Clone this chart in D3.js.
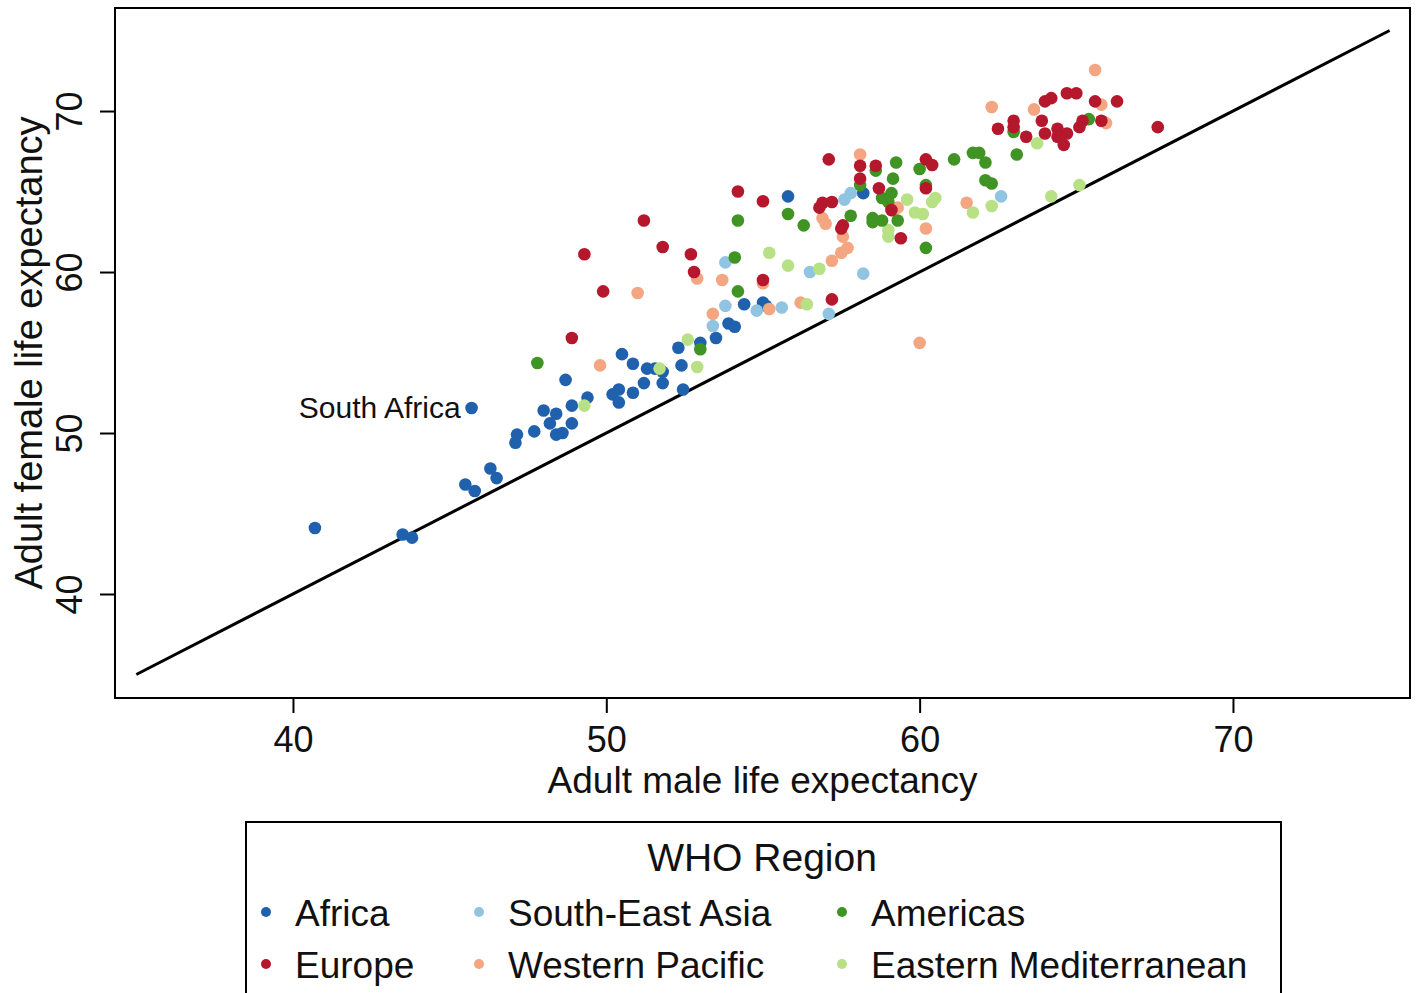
<!DOCTYPE html>
<html>
<head>
<meta charset="utf-8">
<script src="https://cdn.jsdelivr.net/npm/d3@7"></script>
<style>
  body { margin: 0; background: #fff; }
  svg { display: block; overflow: hidden; font-family: "Liberation Sans", Arial, sans-serif; }
  .frame { fill: none; stroke: #000; stroke-width: 2; }
  .diag { stroke: #000; stroke-width: 3; }
  .tick line { stroke: #000; stroke-width: 2; }
  .tick text { font-size: 36px; fill: #111; }
</style>
</head>
<body>
<div id="chart"></div>
<script>
// [male, female] adult life expectancy
var africa = [
  [40.7, 44.1], [43.5, 43.7], [43.8, 43.5], [45.5, 46.8], [45.8, 46.4], [46.3, 47.8],
  [46.5, 47.2], [45.7, 51.55], [47.1, 49.4], [47.15, 49.9], [47.7, 50.1], [48.0, 51.4],
  [48.2, 50.6], [48.4, 51.2], [48.4, 49.9], [48.6, 50.0], [48.7, 53.3], [48.9, 51.7],
  [48.9, 50.6], [49.4, 52.2], [50.2, 52.4], [50.4, 52.7], [50.4, 51.9], [50.5, 54.9],
  [50.85, 54.3], [50.85, 52.5], [51.3, 54.0], [51.55, 54.0], [51.8, 53.8], [51.8, 53.1],
  [51.2, 53.1], [52.4, 54.2], [52.3, 55.3], [52.45, 52.7], [53.0, 55.6], [53.5, 55.9],
  [53.9, 56.8], [54.1, 56.6], [54.4, 58.0], [55.0, 58.1], [55.1, 57.9], [55.8, 64.7],
  [58.2, 64.9]
];
var europe = [
  [49.3, 61.1], [49.9, 58.8], [51.2, 63.2], [51.8, 61.55], [52.7, 61.1], [52.8, 60.0],
  [48.9, 55.9], [54.2, 65.0], [55.0, 64.4], [55.0, 59.5], [57.1, 67.0], [58.1, 66.6],
  [58.6, 66.6], [58.1, 65.8], [58.7, 65.2], [60.2, 67.0], [60.4, 66.65], [60.2, 65.2],
  [56.9, 64.3], [57.2, 64.35], [56.8, 64.0], [57.55, 62.9], [57.5, 62.7], [59.1, 63.85],
  [59.4, 62.1], [57.2, 58.3], [64.7, 71.1], [65.0, 71.1], [64.0, 70.6], [64.2, 70.8],
  [65.6, 70.6], [66.3, 70.6], [63.0, 69.4], [63.0, 69.0], [62.5, 68.9], [63.4, 68.4],
  [63.9, 69.4], [64.0, 68.6], [64.4, 68.9], [64.4, 68.4], [64.7, 68.6], [65.1, 69.0],
  [65.2, 69.4], [65.8, 69.4], [64.6, 67.9], [67.6, 69.0]
];
var seAsia = [
  [53.8, 60.6], [53.8, 57.9], [53.4, 56.65], [54.8, 57.6], [55.6, 57.8], [56.5, 60.0],
  [57.1, 57.4], [57.8, 64.9], [57.6, 64.5], [58.2, 59.9], [62.6, 64.7]
];
var westPacific = [
  [49.8, 54.2], [51.0, 58.7], [52.9, 59.6], [53.7, 59.5], [53.4, 57.4], [55.0, 59.3],
  [55.2, 57.7], [56.2, 58.1], [57.2, 60.7], [57.55, 62.2], [57.7, 61.5], [57.5, 61.2],
  [56.9, 63.35], [57.0, 63.0], [58.1, 67.3], [59.3, 64.0], [59.15, 63.8], [60.2, 62.7],
  [60.0, 55.6], [61.5, 64.3], [62.3, 70.25], [63.65, 70.1], [65.6, 72.55], [65.8, 70.4],
  [65.95, 69.25]
];
var americas = [
  [47.8, 54.35], [53.0, 55.2], [54.2, 58.8], [54.1, 60.9], [54.2, 63.2], [55.8, 63.6],
  [56.3, 62.9], [57.8, 63.5], [58.6, 66.3], [59.25, 66.8], [60.0, 66.4], [61.1, 67.0],
  [59.15, 65.8], [60.2, 65.4], [58.1, 65.4], [58.8, 64.6], [59.1, 64.9], [59.0, 64.35],
  [58.5, 63.35], [58.8, 63.2], [58.5, 63.1], [59.3, 63.2], [60.2, 61.5], [61.7, 67.4],
  [61.9, 67.4], [62.1, 66.8], [62.1, 65.7], [62.3, 65.5], [63.0, 68.7], [63.1, 67.3],
  [65.4, 69.5]
];
var eastMed = [
  [49.3, 51.7], [51.7, 54.0], [52.6, 55.8], [52.9, 54.1], [55.2, 61.2], [55.8, 60.4],
  [56.4, 58.0], [56.8, 60.2], [59.6, 64.5], [59.85, 63.7], [60.1, 63.6], [59.0, 62.6],
  [59.0, 62.2], [60.5, 64.6], [60.4, 64.35], [61.7, 63.7], [62.3, 64.1], [63.75, 68.0],
  [64.2, 64.7], [65.1, 65.4]
];

var regionNames = ["Africa", "South-East Asia", "Americas", "Europe", "Western Pacific", "Eastern Mediterranean"];
var regionColors = ["#1f61ad", "#90c4e0", "#3f9423", "#b5172c", "#f4a582", "#b8e186"];
var ticks = [40, 50, 60, 70];
var label = { name: "South Africa", point: [45.7, 51.55] };

function init() {
    var w = 1417;
    var h = 993;

    // plot frame
    var left = 115, right = 1410, top = 8, bottom = 698;

    var xScale = d3.scaleLinear().domain([34.32, 75.65]).range([left, right]);
    var yScale = d3.scaleLinear().domain([33.54, 76.4]).range([bottom, top]);
    var color = d3.scaleOrdinal().domain(regionNames).range(regionColors);

    var svg = d3.select("#chart")
                .append("svg")
                .attr("width", w)
                .attr("height", h);

    // y = x reference line
    svg.append("line")
        .attr("class", "diag")
        .attr("x1", xScale(35)).attr("y1", yScale(35))
        .attr("x2", xScale(75)).attr("y2", yScale(75));

    // points, in drawing order
    var groups = [
        ["Africa", africa],
        ["South-East Asia", seAsia],
        ["Western Pacific", westPacific],
        ["Eastern Mediterranean", eastMed],
        ["Americas", americas],
        ["Europe", europe]
    ];
    groups.forEach(function (g) {
        svg.append("g")
            .selectAll("circle")
            .data(g[1])
            .enter()
            .append("circle")
            .attr("cx", function (d) { return xScale(d[0]); })
            .attr("cy", function (d) { return yScale(d[1]); })
            .attr("r", 6.3)
            .attr("fill", color(g[0]));
    });

    svg.append("text")
        .attr("x", xScale(label.point[0]) - 11)
        .attr("y", yScale(label.point[1]) + 10)
        .attr("text-anchor", "end")
        .attr("font-size", 30)
        .attr("fill", "#111")
        .text(label.name);

    svg.append("rect")
        .attr("class", "frame")
        .attr("x", left).attr("y", top)
        .attr("width", right - left).attr("height", bottom - top);

    // axes
    var xAxis = d3.axisBottom(xScale).tickValues(ticks).tickSize(15).tickPadding(13);
    var yAxis = d3.axisLeft(yScale).tickValues(ticks).tickSize(15).tickPadding(0);

    var gx = svg.append("g")
        .attr("transform", "translate(0," + bottom + ")")
        .call(xAxis);
    gx.select(".domain").remove();
    gx.selectAll(".tick text").attr("font-size", null).attr("font-family", null);

    var gy = svg.append("g")
        .attr("transform", "translate(" + left + ",0)")
        .call(yAxis);
    gy.select(".domain").remove();
    gy.selectAll(".tick text")
        .attr("font-size", null).attr("font-family", null)
        .attr("x", null).attr("dy", null)
        .attr("text-anchor", "middle")
        .attr("transform", "translate(-33,0) rotate(-90)");

    svg.append("text")
        .attr("x", (left + right) / 2)
        .attr("y", 793)
        .attr("text-anchor", "middle")
        .attr("font-size", 37)
        .attr("fill", "#111")
        .text("Adult male life expectancy");

    svg.append("text")
        .attr("transform", "translate(42," + (top + bottom) / 2 + ") rotate(-90)")
        .attr("text-anchor", "middle")
        .attr("font-size", 38)
        .attr("fill", "#111")
        .text("Adult female life expectancy");

    // legend
    var legend = svg.append("g");
    legend.append("rect")
        .attr("x", 246).attr("y", 822)
        .attr("width", 1035).attr("height", 200)
        .attr("fill", "#fff")
        .attr("stroke", "#000")
        .attr("stroke-width", 2);

    legend.append("text")
        .attr("x", 762).attr("y", 871)
        .attr("text-anchor", "middle")
        .attr("font-size", 39)
        .attr("fill", "#111")
        .text("WHO Region");

    var colX = [266, 479, 842];
    var rowY = [912, 964];
    regionNames.forEach(function (name, i) {
        var cx = colX[i % 3], cy = rowY[Math.floor(i / 3)];
        legend.append("circle")
            .attr("cx", cx).attr("cy", cy).attr("r", 5)
            .attr("fill", color(name));
        legend.append("text")
            .attr("x", cx + 29).attr("y", cy + 14)
            .attr("font-size", 37)
            .attr("fill", "#111")
            .text(name);
    });
}

window.onload = init;
</script>
</body>
</html>
